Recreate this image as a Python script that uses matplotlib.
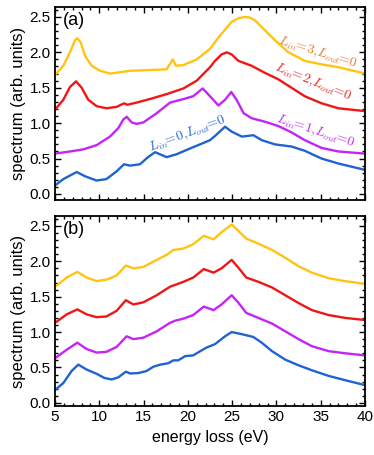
import matplotlib
matplotlib.use("Agg")
import matplotlib.pyplot as plt
from matplotlib.ticker import MultipleLocator, FormatStrFormatter

plt.rcParams['font.family'] = ['Liberation Sans', 'DejaVu Sans']
plt.rcParams['mathtext.fontset'] = 'cm'

# ---- panel (a) ----
a_blue_E = [5.0, 5.94, 7.45, 8.39, 9.7, 10.8, 11.96, 12.79, 13.47, 14.6, 15.5, 16.29, 17.05, 17.6, 18.7,
            20.2, 21.75, 22.5, 23.07, 24.2, 24.95, 26.1, 27.4, 28.34, 29.84, 31.7, 33.2, 35.1, 37.0, 40.0]
a_blue_v = [0.12, 0.21, 0.31, 0.25, 0.19, 0.21, 0.32, 0.42, 0.40, 0.42, 0.52, 0.59, 0.55, 0.52, 0.56,
            0.64, 0.72, 0.76, 0.82, 0.95, 0.88, 0.81, 0.83, 0.76, 0.70, 0.67, 0.61, 0.50, 0.43, 0.34]

a_purple_E = [5.0, 6.69, 8.2, 9.7, 11.2, 12.15, 12.7, 13.09, 13.66, 14.2, 14.97, 16.48, 17.98, 19.5, 20.6,
              21.67, 22.5, 23.45, 24.2, 24.9, 25.5, 26.3, 27.2, 28.7, 30.2, 31.7, 33.2, 35.1, 37.0, 40.0]
a_purple_v = [0.57, 0.60, 0.63, 0.69, 0.81, 0.93, 1.05, 1.09, 1.01, 0.99, 1.01, 1.14, 1.29, 1.34, 1.38,
              1.49, 1.38, 1.25, 1.33, 1.44, 1.33, 1.14, 1.07, 1.02, 0.96, 0.87, 0.76, 0.65, 0.60, 0.57]

a_red_E = [5.0, 5.94, 6.69, 7.37, 8.01, 8.76, 9.7, 10.8, 11.96, 12.79, 13.17, 14.2, 15.7, 17.6, 19.5,
           21.0, 22.5, 23.07, 23.8, 24.4, 24.95, 25.7, 27.2, 28.7, 30.2, 31.7, 33.2, 35.1, 37.0, 40.0]
a_red_v = [1.19, 1.33, 1.51, 1.59, 1.50, 1.33, 1.24, 1.21, 1.23, 1.28, 1.26, 1.29, 1.34, 1.41, 1.49,
           1.60, 1.79, 1.88, 1.97, 2.00, 1.97, 1.88, 1.81, 1.71, 1.62, 1.50, 1.38, 1.28, 1.21, 1.17]

a_gold_E = [5.0, 5.94, 6.69, 7.26, 7.52, 7.9, 8.39, 9.14, 10.08, 11.2, 13.5, 15.7, 17.6, 18.3, 18.66,
            19.5, 21.0, 22.5, 23.45, 24.95, 25.7, 26.46, 27.0, 27.59, 28.71, 29.84, 31.35, 33.2, 35.1,
            37.0, 40.0]
a_gold_v = [1.68, 1.81, 2.00, 2.17, 2.20, 2.14, 1.95, 1.81, 1.74, 1.70, 1.74, 1.75, 1.76, 1.90, 1.81,
            1.82, 1.90, 2.05, 2.21, 2.43, 2.48, 2.50, 2.49, 2.45, 2.31, 2.17, 2.00, 1.88, 1.83,
            1.79, 1.70]

# ---- panel (b) ----
b_blue_E = [5.0, 5.94, 6.88, 7.63, 8.57, 9.7, 10.6, 11.4, 12.15, 13.0, 13.47, 14.4, 15.35, 16.1, 16.9,
            17.8, 18.36, 18.9, 19.7, 20.6, 21.4, 22.1, 23.07, 24.2, 24.95, 26.1, 27.4, 28.34, 29.5,
            31.0, 32.5, 34.0, 35.9, 37.75, 40.0]
b_blue_v = [0.18, 0.28, 0.45, 0.54, 0.47, 0.41, 0.35, 0.33, 0.36, 0.44, 0.415, 0.42, 0.45, 0.51, 0.54,
            0.56, 0.60, 0.60, 0.66, 0.67, 0.73, 0.78, 0.83, 0.94, 1.00, 0.97, 0.93, 0.85, 0.73,
            0.61, 0.53, 0.46, 0.38, 0.32, 0.25]

b_purple_E = [5.0, 6.32, 7.52, 8.57, 9.7, 10.8, 11.96, 13.09, 13.85, 14.97, 16.48, 17.98, 18.55, 19.5,
              20.6, 21.8, 22.9, 23.8, 24.95, 25.7, 26.6, 27.96, 29.5, 31.0, 32.5, 34.0, 35.9, 37.75, 40.0]
b_purple_v = [0.63, 0.75, 0.85, 0.76, 0.71, 0.72, 0.79, 0.94, 0.90, 0.92, 1.01, 1.13, 1.16, 1.19,
              1.24, 1.36, 1.31, 1.39, 1.52, 1.415, 1.27, 1.20, 1.12, 1.01, 0.90, 0.80, 0.73, 0.70, 0.67]

b_red_E = [5.0, 6.32, 7.52, 8.57, 9.7, 10.8, 11.96, 13.0, 13.85, 14.97, 16.48, 17.98, 19.5, 20.6,
           21.8, 22.9, 23.8, 24.95, 25.7, 26.6, 27.96, 29.5, 31.0, 32.5, 34.0, 35.9, 37.75, 40.0]
b_red_v = [1.13, 1.25, 1.32, 1.25, 1.21, 1.22, 1.30, 1.45, 1.39, 1.42, 1.52, 1.64, 1.71, 1.77,
           1.89, 1.84, 1.90, 2.02, 1.91, 1.77, 1.71, 1.63, 1.52, 1.41, 1.31, 1.24, 1.20, 1.17]

b_gold_E = [5.0, 6.32, 7.52, 8.57, 9.7, 10.8, 11.96, 13.0, 13.85, 14.97, 16.48, 17.6, 18.36, 19.5,
            20.6, 21.8, 22.9, 23.8, 24.95, 25.7, 26.6, 27.96, 29.5, 31.0, 32.5, 34.0, 35.9, 37.75, 40.0]
b_gold_v = [1.64, 1.77, 1.85, 1.77, 1.72, 1.74, 1.80, 1.94, 1.90, 1.92, 2.02, 2.09, 2.16, 2.18,
            2.24, 2.36, 2.31, 2.41, 2.52, 2.43, 2.32, 2.25, 2.16, 2.05, 1.93, 1.84, 1.76, 1.72, 1.68]

labels = [r'$L_{in}\!\!=\!0,\!L_{out}\!\!=\!0$', r'$L_{in}\!\!=\!1,\!L_{out}\!\!=\!0$',
          r'$L_{in}\!\!=\!2,\!L_{out}\!\!=\!0$', r'$L_{in}\!\!=\!3,\!L_{out}\!\!=\!0$']
label_pos = [(20.0, 0.84), (34.4, 0.88), (34.1, 1.57), (34.7, 2.00)]
label_rot = [21, -18, -22, -17]
label_col = ['#2a6ad6', '#c030f0', '#e0302a', '#e87a30']

line_cols = ['#1f63d3', '#c424f6', '#f01616', '#ffc412']

W, H = 374, 455
fig = plt.figure(figsize=(W / 100, H / 100), dpi=100)
axA = fig.add_axes([55 / W, 1 - 200 / H, 310 / W, 193 / H])
axB = fig.add_axes([55 / W, 1 - 406 / H, 310 / W, 190 / H])

a_data = [(a_blue_E, a_blue_v), (a_purple_E, a_purple_v), (a_red_E, a_red_v), (a_gold_E, a_gold_v)]
b_data = [(b_blue_E, b_blue_v), (b_purple_E, b_purple_v), (b_red_E, b_red_v), (b_gold_E, b_gold_v)]

for ax, data, ylim in [(axA, a_data, (-0.085, 2.64)), (axB, b_data, (-0.045, 2.64))]:
    for (E, v), c in zip(data, line_cols):
        ax.plot(E, v, color=c, lw=1.7, solid_joinstyle='round', solid_capstyle='round')
    ax.set_xlim(5, 40)
    ax.set_ylim(*ylim)
    ax.xaxis.set_major_locator(MultipleLocator(5))
    ax.xaxis.set_minor_locator(MultipleLocator(1))
    ax.yaxis.set_major_locator(MultipleLocator(0.5))
    ax.yaxis.set_minor_locator(MultipleLocator(0.1))
    ax.yaxis.set_major_formatter(FormatStrFormatter('%.1f'))
    ax.tick_params(which='both', direction='in', top=True, right=True, labelsize=11, width=1.0, pad=3)
    ax.tick_params(which='major', length=4)
    ax.tick_params(which='minor', length=2)
    for s in ax.spines.values():
        s.set_linewidth(1.3)
    ax.set_ylabel('spectrum (arb. units)', fontsize=12, labelpad=3)

axA.tick_params(labelbottom=False)
axB.set_xlabel('energy loss (eV)', fontsize=11.5, labelpad=4)

axA.text(0.025, 0.975, '(a)', transform=axA.transAxes, fontsize=13, va='top', ha='left')
axB.text(0.025, 0.975, '(b)', transform=axB.transAxes, fontsize=13, va='top', ha='left')

for t, (x, y), r, c in zip(labels, label_pos, label_rot, label_col):
    axA.text(x, y, t, color=c, rotation=r, fontsize=10, ha='center', va='center',
             rotation_mode='anchor')

fig.savefig('out.png', dpi=100)
